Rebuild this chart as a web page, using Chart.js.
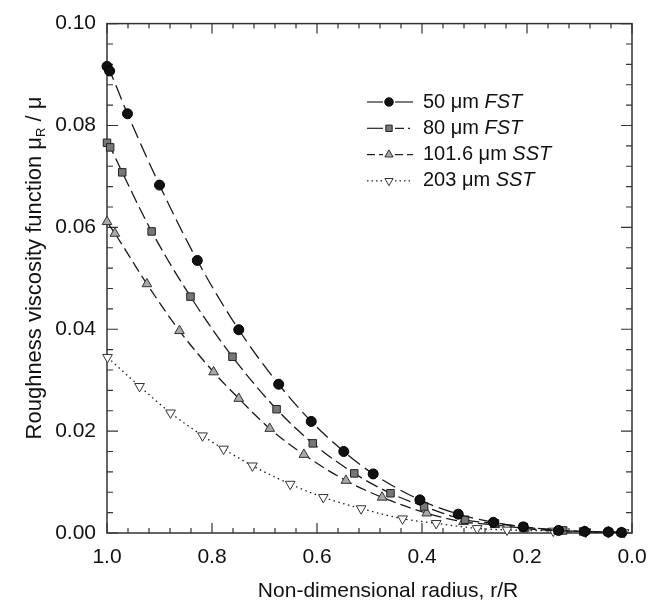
<!DOCTYPE html>
<html><head><meta charset="utf-8">
<script src="https://cdn.jsdelivr.net/npm/chart.js@4.4.0/dist/chart.umd.min.js"></script>
<style>html,body{margin:0;padding:0;background:#fff}</style>
</head><body>
<canvas id="c" width="660" height="606"></canvas>
<script>
const xTickValues = [1.0, 0.8, 0.6, 0.4, 0.2, 0.0];
const yTickValues = [0.00, 0.02, 0.04, 0.06, 0.08, 0.10];

const x50 = [1.0, 0.995, 0.961, 0.900, 0.828, 0.749, 0.673, 0.611, 0.549, 0.493, 0.404, 0.331, 0.264, 0.207, 0.140, 0.090, 0.045, 0.020];
const y50 = [0.0916, 0.0907, 0.0823, 0.0683, 0.0535, 0.0399, 0.0292, 0.0219, 0.0160, 0.0116, 0.0065, 0.0037, 0.0021, 0.0012, 0.0005, 0.0003, 0.0002, 0.0001];

const x80 = [1.0, 0.994, 0.971, 0.915, 0.841, 0.761, 0.677, 0.608, 0.529, 0.460, 0.396, 0.318, 0.261, 0.207, 0.131, 0.093, 0.045, 0.020];
const y80 = [0.0766, 0.0757, 0.0708, 0.0592, 0.0464, 0.0346, 0.0243, 0.0176, 0.0117, 0.0078, 0.0052, 0.0026, 0.0019, 0.0012, 0.0005, 0.0003, 0.0002, 0.0001];

const x101 = [1.0, 0.985, 0.924, 0.862, 0.797, 0.749, 0.690, 0.625, 0.545, 0.476, 0.391, 0.321, 0.261, 0.205, 0.140, 0.090, 0.045, 0.020];
const y101 = [0.0611, 0.0588, 0.0489, 0.0397, 0.0316, 0.0264, 0.0205, 0.0154, 0.0103, 0.0070, 0.0039, 0.0022, 0.0016, 0.0009, 0.0004, 0.0003, 0.0002, 0.0001];

const x203 = [0.999, 0.938, 0.879, 0.818, 0.778, 0.723, 0.651, 0.588, 0.516, 0.437, 0.373, 0.295, 0.238, 0.150, 0.088, 0.045, 0.015];
const y203 = [0.0345, 0.0288, 0.0236, 0.0191, 0.0165, 0.0132, 0.0096, 0.0070, 0.0048, 0.0028, 0.0019, 0.0009, 0.0006, 0.0004, 0.0002, 0.0001, 0.0001];

const seriesNames = ['50 \u03bcm ', '80 \u03bcm ', '101.6 \u03bcm ', '203 \u03bcm '];
const seriesItalic = ['FST', 'FST', 'SST', 'SST'];

const FONT = '"Liberation Sans", Arial, Helvetica, sans-serif';

function pts(xs, ys) { return xs.map((x, i) => ({x: x, y: ys[i]})); }

const styles = [
  {pointStyle: 'circle', radius: 5, bg: '#111', bc: '#000', dash: [15, 6], rot: 0},
  {pointStyle: 'rect', radius: 5.3, bg: '#777', bc: '#222', dash: [13, 5], rot: 0},
  {pointStyle: 'triangle', radius: 5.6, bg: '#a8a8a8', bc: '#333', dash: [11, 5], rot: 0},
  {pointStyle: 'triangle', radius: 5.6, bg: '#ffffff', bc: '#333', dash: [1.5, 3.5], rot: 180}
];
const dataSets = [pts(x50, y50), pts(x80, y80), pts(x101, y101), pts(x203, y203)];

const datasets = dataSets.map((d, i) => ({
  label: seriesNames[i] + seriesItalic[i],
  data: d,
  showLine: true,
  borderColor: '#1a1a1a',
  borderWidth: 1.3,
  borderDash: styles[i].dash,
  cubicInterpolationMode: 'monotone',
  pointStyle: styles[i].pointStyle,
  pointRadius: styles[i].radius,
  pointRotation: styles[i].rot,
  pointBackgroundColor: styles[i].bg,
  pointBorderColor: styles[i].bc,
  pointBorderWidth: 1,
  clip: false
}));

const framePlugin = {
  id: 'frame',
  beforeDatasetsDraw(chart) {
    const {ctx, chartArea: a, scales: {x, y}} = chart;
    ctx.save();
    ctx.strokeStyle = '#333';
    ctx.lineWidth = 1.5;
    ctx.strokeRect(a.left, a.top, a.right - a.left, a.bottom - a.top);
    ctx.lineWidth = 1.2;
    ctx.beginPath();
    for (let i = 0; i <= 25; i++) {
      const px = x.getPixelForValue(i * 0.04);
      const L = (i % 5 === 0) ? 10 : 5;
      ctx.moveTo(px, a.bottom); ctx.lineTo(px, a.bottom - L);
      ctx.moveTo(px, a.top); ctx.lineTo(px, a.top + L);
    }
    for (let i = 0; i <= 25; i++) {
      const py = y.getPixelForValue(i * 0.004);
      const L = (i % 5 === 0) ? 11 : 6;
      ctx.moveTo(a.left, py); ctx.lineTo(a.left + L, py);
      ctx.moveTo(a.right, py); ctx.lineTo(a.right - L, py);
    }
    ctx.stroke();
    ctx.restore();
  },
  afterDraw(chart) {
    const {ctx} = chart;
    ctx.save();
    ctx.fillStyle = '#111';
    // x title
    ctx.font = '21px ' + FONT;
    ctx.textBaseline = 'middle';
    ctx.textAlign = 'center';
    ctx.fillText('Non-dimensional radius, r/R', 388, 591);
    // y title with subscript
    ctx.save();
    ctx.translate(33, 268);
    ctx.rotate(-Math.PI / 2);
    const p1 = 'Roughness viscosity function \u03bc';
    const p2 = 'R';
    const p3 = ' / \u03bc';
    ctx.font = '22px ' + FONT;
    const w1 = ctx.measureText(p1).width;
    const w3 = ctx.measureText(p3).width;
    ctx.font = '13px ' + FONT;
    const w2 = ctx.measureText(p2).width;
    const tot = w1 + w2 + w3;
    let sx = -tot / 2;
    ctx.textAlign = 'left';
    ctx.textBaseline = 'alphabetic';
    ctx.font = '22px ' + FONT;
    ctx.fillText(p1, sx, 8);
    sx += w1;
    ctx.font = '13px ' + FONT;
    ctx.fillText(p2, sx, 12);
    sx += w2;
    ctx.font = '22px ' + FONT;
    ctx.fillText(p3, sx, 8);
    ctx.restore();

    // legend
    const ly0 = 102, dy = 26.3;
    for (let i = 0; i < 4; i++) {
      const ly = ly0 + i * dy;
      const st = styles[i];
      ctx.save();
      ctx.strokeStyle = '#222';
      ctx.lineWidth = 1.2;
      ctx.setLineDash(i === 3 ? [1.5, 3] : (i === 2 ? [8, 4] : []));
      ctx.beginPath();
      ctx.moveTo(367, ly); ctx.lineTo(383, ly);
      ctx.stroke();
      if (i === 1) ctx.setLineDash([9, 4, 2, 4]);
      ctx.beginPath();
      ctx.moveTo(395, ly); ctx.lineTo(413, ly);
      ctx.stroke();
      ctx.setLineDash([]);
      ctx.fillStyle = st.bg; ctx.strokeStyle = st.bc; ctx.lineWidth = 1;
      Chart.helpers.drawPoint(ctx, {pointStyle: st.pointStyle, radius: st.radius * 0.85, rotation: st.rot, borderWidth: 1}, 389, ly);
      ctx.restore();
      ctx.font = '20px ' + FONT;
      ctx.textBaseline = 'middle';
      ctx.textAlign = 'left';
      ctx.fillStyle = '#111';
      ctx.fillText(seriesNames[i], 423, ly);
      const wn = ctx.measureText(seriesNames[i]).width;
      ctx.font = 'italic 20px ' + FONT;
      ctx.fillText(seriesItalic[i], 423 + wn, ly);
    }
    ctx.restore();
  }
};

new Chart(document.getElementById('c'), {
  type: 'scatter',
  data: {datasets: datasets},
  options: {
    responsive: false,
    animation: false,
    events: [],
    layout: {padding: {top: 14, right: 28, left: 0, bottom: 0}},
    plugins: {legend: {display: false}, tooltip: {enabled: false}},
    scales: {
      x: {
        type: 'linear', reverse: true, min: 0, max: 1,
        afterFit(s) { s.height = 73; },
        afterBuildTicks(s) { s.ticks = xTickValues.map(v => ({value: v})); },
        grid: {display: false, drawTicks: false},
        border: {display: false},
        ticks: {padding: 12, color: '#111', font: {family: FONT, size: 21}, maxRotation: 0, autoSkip: false,
          callback: v => Number(v).toFixed(1)}
      },
      y: {
        type: 'linear', min: 0, max: 0.1,
        afterFit(s) { s.width = 107; },
        afterBuildTicks(s) { s.ticks = yTickValues.map(v => ({value: v})); },
        grid: {display: false, drawTicks: false},
        border: {display: false},
        ticks: {padding: 11, color: '#111', font: {family: FONT, size: 21}, autoSkip: false,
          callback: v => Number(v).toFixed(2)}
      }
    }
  },
  plugins: [framePlugin]
});
</script>
</body></html>
